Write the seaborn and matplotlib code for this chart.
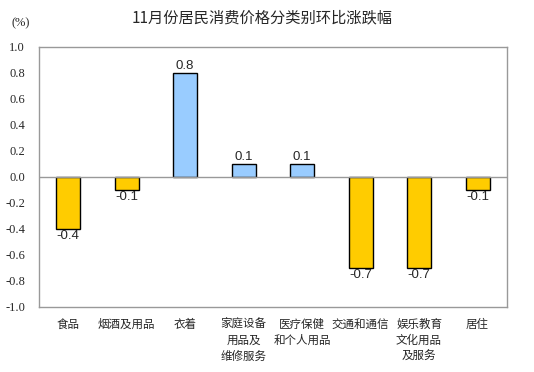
import matplotlib
matplotlib.use('Agg')
import matplotlib.pyplot as plt
import seaborn as sns
import pandas as pd

# Data
categories = ['食品', '烟酒及用品', '衣着', '家庭设备\n用品及\n维修服务', '医疗保健\n和个人用品',
              '交通和通信', '娱乐教育\n文化用品\n及服务', '居住']
values = [-0.4, -0.1, 0.8, 0.1, 0.1, -0.7, -0.7, -0.1]
yticks = [-1.0, -0.8, -0.6, -0.4, -0.2, 0.0, 0.2, 0.4, 0.6, 0.8, 1.0]

sns.set_style('white')
plt.rcParams['font.family'] = ['Noto Sans CJK SC', 'DejaVu Sans']

df = pd.DataFrame({'cat': categories, 'val': values})
colors = ['#99CCFF' if v > 0 else '#FFCC00' for v in values]

fig = plt.figure(figsize=(5.34, 3.72), dpi=100)
ax = fig.add_axes([0.073, 0.175, 0.876, 0.699])

sns.barplot(data=df, x='cat', y='val', hue='cat', palette=colors, legend=False,
            width=0.41, edgecolor='black', linewidth=1.0, saturation=1, ax=ax)

ax.set_ylim(-1.0, 1.0)
ax.set_xlim(-0.5, len(categories) - 0.5)
ax.set_yticks(yticks)
ax.set_yticklabels([f'{t:.1f}' for t in yticks], family='Liberation Serif', fontsize=9)
ax.tick_params(axis='y', direction='in', length=3, color='#999999', pad=10)
ax.tick_params(axis='x', length=0, pad=8)
ax.set_xticks(range(len(categories)))
ax.set_xticklabels(categories, fontsize=8.3, linespacing=1.3, va='top')
ax.set_xlabel('')
ax.set_ylabel('')
for s in ax.spines.values():
    s.set_color('#999999')
    s.set_linewidth(1)
ax.axhline(0, color='#999999', linewidth=1)

for i, v in enumerate(values):
    if v > 0:
        ax.text(i, v + 0.01, f'{v:.1f}', ha='center', va='bottom', fontsize=9.5,
                family='Liberation Sans')
    else:
        ax.text(i, v - 0.01, f'{v:.1f}', ha='center', va='top', fontsize=9.5,
                family='Liberation Sans')

fig.text(0.49, 0.953, '11月份居民消费价格分类别环比涨跌幅', ha='center', va='center', fontsize=11)
fig.text(0.039, 0.937, '(%)', ha='center', va='center', fontsize=9, family='Liberation Serif')

fig.savefig('out.png', dpi=100)
